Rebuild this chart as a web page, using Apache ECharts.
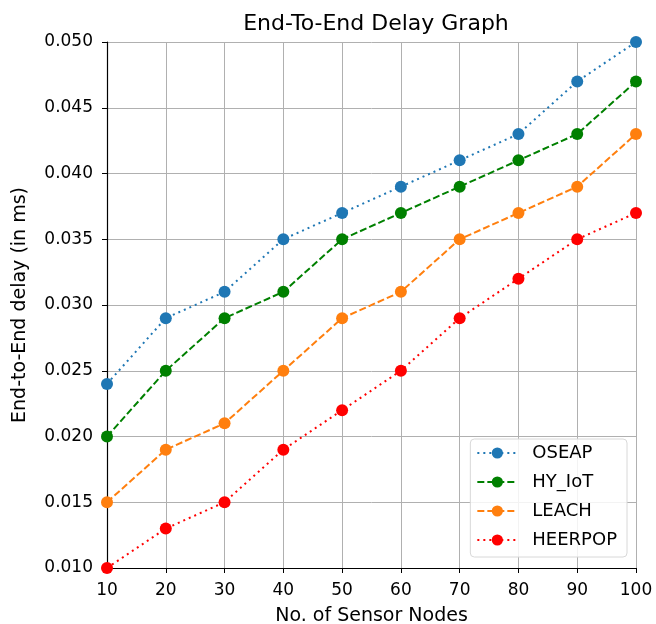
<!DOCTYPE html>
<html>
<head>
<meta charset="utf-8">
<script src="https://cdn.jsdelivr.net/npm/echarts@6/dist/echarts.min.js"></script>
<style>
  html, body { margin: 0; padding: 0; background: #fff; }
  #chart { width: 656px; height: 624px; }
</style>
</head>
<body>
<div id="chart"></div>
<script>
// sensor node counts on x axis
const nodes = [10, 20, 30, 40, 50, 60, 70, 80, 90, 100];

// delay values per protocol
const oseap = [0.024, 0.029, 0.031, 0.035, 0.037, 0.039, 0.041, 0.043, 0.047, 0.050];
const hyIot = [0.020, 0.025, 0.029, 0.031, 0.035, 0.037, 0.039, 0.041, 0.043, 0.047];
const leach = [0.015, 0.019, 0.021, 0.025, 0.029, 0.031, 0.035, 0.037, 0.039, 0.043];
const heerpop = [0.010, 0.013, 0.015, 0.019, 0.022, 0.025, 0.029, 0.032, 0.035, 0.037];

const seriesNames = ["OSEAP", "HY_IoT", "LEACH", "HEERPOP"];

const font = "DejaVu Sans";
const chart = echarts.init(document.getElementById("chart"));

const makeSeries = (name, values, color, dash) => ({
  name: name,
  type: "line",
  data: nodes.map((n, i) => [n, values[i]]),
  symbol: "circle",
  symbolSize: 12,
  clip: true,
  itemStyle: { color: color },
  lineStyle: { color: color, width: 2, type: dash },
  emphasis: { disabled: true },
  z: 3,
});

const option = {
  animation: false,
  textStyle: { fontFamily: font },
  title: {
    text: "End-To-End Delay Graph",
    left: 371,
    textAlign: "center",
    top: 8,
    textStyle: { fontFamily: font, fontSize: 22, fontWeight: "normal", color: "#000" },
  },
  grid: { left: 107, right: 20, top: 42, bottom: 56, outerBoundsMode: "none" },
  legend: {
    data: seriesNames,
    orient: "vertical",
    right: 29,
    bottom: 67,
    itemWidth: 40,
    itemHeight: 14,
    itemGap: 11,
    padding: [5, 10, 8, 6],
    borderColor: "#d8d8d8",
    borderWidth: 1,
    borderRadius: 4,
    backgroundColor: "rgba(255,255,255,0.85)",
    textStyle: {
      fontFamily: font,
      fontSize: 18,
      lineHeight: 18,
      color: "#000",
      padding: [0, 0, 0, 10],
    },
  },
  xAxis: {
    type: "value",
    min: 10,
    max: 100,
    interval: 10,
    name: "No. of Sensor Nodes",
    nameLocation: "middle",
    nameGap: 39,
    nameTextStyle: { fontFamily: font, fontSize: 19, color: "#000" },
    axisLine: { show: true, onZero: false, lineStyle: { color: "#000", width: 1.2 } },
    axisTick: { show: true, length: 5, lineStyle: { color: "#000" } },
    axisLabel: { fontFamily: font, fontSize: 17, color: "#000", margin: 14 },
    splitLine: { show: true, lineStyle: { color: "#b0b0b0", width: 1 } },
  },
  yAxis: {
    type: "value",
    min: 0.010,
    max: 0.050,
    interval: 0.005,
    name: "End-to-End delay (in ms)",
    nameLocation: "middle",
    nameGap: 77,
    nameTextStyle: { fontFamily: font, fontSize: 19, color: "#000" },
    axisLine: { show: true, onZero: false, lineStyle: { color: "#000", width: 1.2 } },
    axisTick: { show: true, length: 5, lineStyle: { color: "#000" } },
    axisLabel: {
      fontFamily: font,
      fontSize: 17,
      color: "#000",
      margin: 14,
      formatter: (v) => v.toFixed(3),
    },
    splitLine: { show: true, lineStyle: { color: "#b0b0b0", width: 1 } },
  },
  series: [
    makeSeries("OSEAP", oseap, "#1f77b4", [2, 4]),
    makeSeries("HY_IoT", hyIot, "#008000", [7, 3]),
    makeSeries("LEACH", leach, "#ff7f0e", [7, 3]),
    makeSeries("HEERPOP", heerpop, "#ff0000", [2, 4]),
  ],
};

chart.setOption(option);
</script>
</body>
</html>
